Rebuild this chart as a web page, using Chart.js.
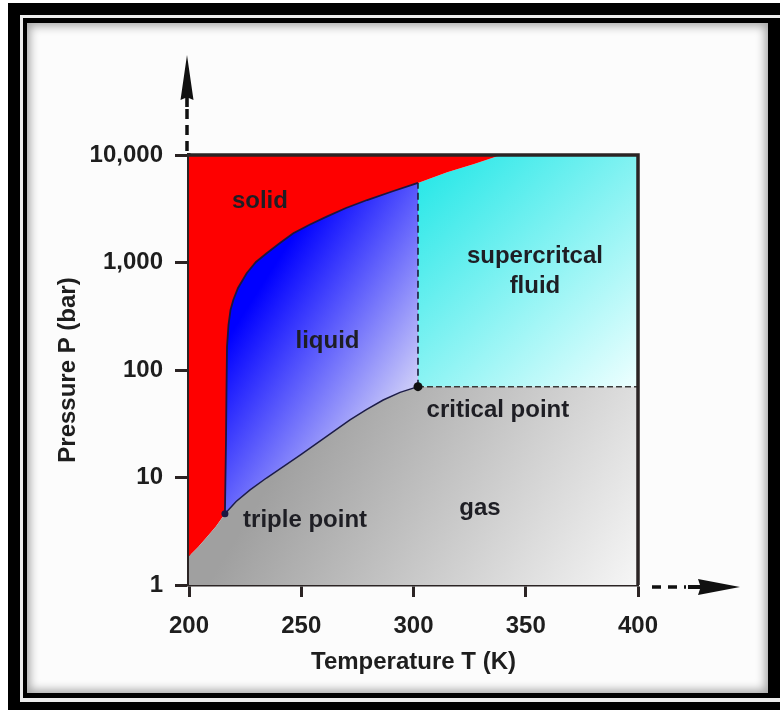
<!DOCTYPE html>
<html>
<head>
<meta charset="utf-8">
<script src="https://cdn.jsdelivr.net/npm/chart.js"></script>
<style>
    body { margin: 0; width: 780px; height: 710px; overflow: hidden; position: relative; background: #fff; }
    .marco { position: absolute; }
    #chartDiagramaFases { position: absolute; left: 0; top: 0; }
</style>
</head>
<body>
<div class="marco" style="left:8px;top:3px;width:800px;height:720px;background:#000"></div>
<div class="marco" style="left:20px;top:15px;width:800px;height:687px;background:#ececec"></div>
<div class="marco" style="left:23px;top:18px;width:800px;height:680px;background:#000"></div>
<div class="marco" style="left:27px;top:23px;width:741px;height:670px;background:#fcfcfc;box-shadow:inset 0 0 10px 3px rgba(0,0,0,0.35)"></div>
<canvas id="chartDiagramaFases" width="780" height="710"></canvas>
<script>
//Datos del diagrama de fases
var xTicks = [200, 250, 300, 350, 400];
var yTicks = [1, 10, 100, 1000, 10000];
var yTickLabels = ['1', '10', '100', '1,000', '10,000'];

//curva solido-gas
var sublimacionT = [200, 204, 208, 212, 216];
var sublimacionP = [1.85, 2.25, 2.8, 3.5, 4.6];

//curva solido-liquido (y solido-fluido por encima de 302 K)
var fusionT = [216.0, 216.48, 216.7, 216.93, 217.59, 218.49, 219.73, 221.83, 225.7, 229.84, 234.61, 240.53, 246.46, 253.9, 261.34, 269.93, 279.34, 290.42, 302.0, 315.0, 327.0, 339.0];
var fusionP = [4.6, 22.3, 65, 164, 262, 362, 448, 579, 794, 1011, 1218, 1518, 1869, 2255, 2669, 3214, 3812, 4575, 5500, 6900, 8250, 10000];

//curva liquido-gas
var vaporT = [216.0, 221.0, 227.2, 234.5, 242.0, 249.5, 256.9, 264.3, 271.7, 279.0, 286.5, 294.0, 302.0];
var vaporP = [4.6, 5.98, 7.66, 9.89, 12.59, 16.14, 20.8, 26.73, 34.28, 42.85, 52.6, 61.94, 70];

var puntoTripleT = 216, puntoTripleP = 4.6;
var puntoCriticoT = 302, puntoCriticoP = 70;
var tMin = 200, tMax = 400, pMin = 1, pMax = 10000;

var etiquetas = ['solid', 'liquid', 'supercritcal', 'fluid', 'gas', 'triple point', 'critical point'];
var etiquetasT = [231.6, 261.7, 354.1, 354.1, 329.6, 251.7, 337.6];
var etiquetasP = [3680, 183, 1132, 596, 5.2, 4.03, 42.5];

var fuente = '"Liberation Sans", Arial, sans-serif';
var colorEje = '#2b2424';

function puntos(ts, ps){
    return ts.map(function(t, i){ return {x: t, y: ps[i]}; });
}

var sublimacion = puntos(sublimacionT, sublimacionP);
var fusion = puntos(fusionT, fusionP);
var vapor = puntos(vaporT, vaporP);
var iCritico = fusionT.indexOf(puntoCriticoT);
var critico = {x: puntoCriticoT, y: puntoCriticoP};

//Poligonos de cada fase
var poligonoSolido = sublimacion.concat(fusion.slice(1), [{x: tMin, y: pMax}]);
var poligonoLiquido = fusion.slice(0, iCritico + 1).concat([critico], vapor.slice(1, -1).reverse());
var poligonoSupercritico = [critico].concat(fusion.slice(iCritico), [{x: tMax, y: pMax}, {x: tMax, y: puntoCriticoP}]);
var poligonoGas = [{x: tMin, y: pMin}].concat(sublimacion, vapor.slice(1), [{x: tMax, y: puntoCriticoP}, {x: tMax, y: pMin}]);

function degradado(ctx, t0, p0, t1, p1, c0, c1){
    var chart = ctx.chart;
    if (!chart.chartArea) { return c0; }
    var sx = chart.scales.x, sy = chart.scales.y;
    var g = chart.ctx.createLinearGradient(sx.getPixelForValue(t0), sy.getPixelForValue(p0), sx.getPixelForValue(t1), sy.getPixelForValue(p1));
    g.addColorStop(0, c0);
    g.addColorStop(1, c1);
    return g;
}

function poligono(datos, color){
    return {
        data: datos,
        fill: 'shape',
        backgroundColor: color,
        borderWidth: 0,
        pointRadius: 0,
        tension: 0,
        order: 3
    };
}

//Flechas, marco y textos
var decoracion = {
    id: 'decoracion',
    afterDraw: function(chart){
        var ctx = chart.ctx;
        var a = chart.chartArea;
        var sx = chart.scales.x, sy = chart.scales.y;
        ctx.save();
        ctx.strokeStyle = colorEje;
        ctx.lineWidth = 3.5;
        ctx.beginPath();
        ctx.moveTo(a.left, a.top);
        ctx.lineTo(a.right, a.top);
        ctx.lineTo(a.right, a.bottom);
        ctx.stroke();

        //flecha vertical
        var fx = a.left - 2;
        ctx.strokeStyle = '#111';
        ctx.lineWidth = 3.5;
        ctx.setLineDash([10, 6]);
        ctx.beginPath();
        ctx.moveTo(fx, a.top - 4);
        ctx.lineTo(fx, a.top - 50);
        ctx.stroke();
        ctx.setLineDash([]);
        ctx.fillStyle = '#111';
        ctx.beginPath();
        ctx.moveTo(fx, a.top - 100);
        ctx.lineTo(fx + 6.5, a.top - 55);
        ctx.lineTo(fx + 1.8, a.top - 57);
        ctx.lineTo(fx + 1.8, a.top - 48);
        ctx.lineTo(fx - 1.8, a.top - 48);
        ctx.lineTo(fx - 1.8, a.top - 57);
        ctx.lineTo(fx - 6.5, a.top - 55);
        ctx.closePath();
        ctx.fill();

        //flecha horizontal
        var fy = a.bottom + 2;
        ctx.setLineDash([9, 7]);
        ctx.beginPath();
        ctx.moveTo(a.right + 14, fy);
        ctx.lineTo(a.right + 48, fy);
        ctx.stroke();
        ctx.setLineDash([]);
        ctx.beginPath();
        ctx.moveTo(a.right + 102, fy);
        ctx.lineTo(a.right + 60, fy - 8);
        ctx.lineTo(a.right + 62, fy - 2);
        ctx.lineTo(a.right + 50, fy - 2);
        ctx.lineTo(a.right + 50, fy + 2);
        ctx.lineTo(a.right + 62, fy + 2);
        ctx.lineTo(a.right + 60, fy + 8);
        ctx.closePath();
        ctx.fill();

        //nombres de las fases
        ctx.fillStyle = '#1e1e24';
        ctx.font = 'bold 24px ' + fuente;
        ctx.textAlign = 'center';
        ctx.textBaseline = 'middle';
        etiquetas.forEach(function(texto, i){
            ctx.fillText(texto, sx.getPixelForValue(etiquetasT[i]), sy.getPixelForValue(etiquetasP[i]));
        });
        ctx.restore();
    }
};

var ctx = document.getElementById('chartDiagramaFases').getContext('2d');
var myChart = new Chart(ctx, {
    type: 'line',
    data: {
        datasets: [
            poligono(poligonoGas, function(c){ return degradado(c, 260, 60, 400, 1, '#a0a0a0', '#f6f6f6'); }),
            poligono(poligonoSolido, '#fe0000'),
            poligono(poligonoLiquido, function(c){ return degradado(c, 232, 600, 302, 70, '#0000ff', '#d0d0f8'); }),
            poligono(poligonoSupercritico, function(c){ return degradado(c, 302, 10000, 400, 70, '#1ee6e6', '#eeffff'); }),
            {
                label: 'fusion',
                data: fusion.slice(0, iCritico + 1),
                borderColor: '#1c1640',
                borderWidth: 1.8,
                pointRadius: 0,
                fill: false,
                order: 2
            },
            {
                label: 'vapor',
                data: vapor,
                borderColor: '#1c1c48',
                borderWidth: 1.5,
                pointRadius: 0,
                fill: false,
                order: 2
            },
            {
                label: 'critica vertical',
                data: [critico, fusion[iCritico]],
                borderColor: '#1c1c3a',
                borderWidth: 1.6,
                borderDash: [7, 4],
                pointRadius: 0,
                fill: false,
                order: 2
            },
            {
                label: 'critica horizontal',
                data: [critico, {x: tMax, y: puntoCriticoP}],
                borderColor: '#3a3a3a',
                borderWidth: 1.5,
                borderDash: [6, 3],
                pointRadius: 0,
                fill: false,
                order: 2
            },
            {
                label: 'puntos',
                data: [{x: puntoTripleT, y: puntoTripleP}, critico],
                showLine: false,
                pointRadius: [3.5, 4.5],
                pointBackgroundColor: ['#1c1640', '#111'],
                pointBorderWidth: 0,
                fill: false,
                order: 1
            }
        ]
    },
    options: {
        responsive: false,
        animation: false,
        devicePixelRatio: 1,
        layout: { padding: { top: 155, right: 142, left: 0, bottom: 0 } },
        plugins: {
            legend: { display: false },
            tooltip: { enabled: false }
        },
        scales: {
            x: {
                type: 'linear',
                min: tMin,
                max: tMax,
                z: 1,
                afterBuildTicks: function(scale){
                    scale.ticks = xTicks.map(function(v){ return {value: v}; });
                },
                afterFit: function(scale){ scale.height = 125; },
                ticks: {
                    color: '#1e1e1e',
                    padding: 15,
                    font: { family: fuente, size: 24, weight: 'bold' }
                },
                grid: { drawOnChartArea: false, tickLength: 12, tickWidth: 3, tickColor: colorEje },
                border: { color: colorEje, width: 3.5 },
                title: {
                    display: true,
                    text: 'Temperature T (K)',
                    color: '#1e1e1e',
                    padding: { top: 0, bottom: 33 },
                    font: { family: fuente, size: 24, weight: 'bold' }
                }
            },
            y: {
                type: 'logarithmic',
                min: pMin,
                max: pMax,
                z: 1,
                afterBuildTicks: function(scale){
                    scale.ticks = yTicks.map(function(v){ return {value: v, major: true}; });
                },
                afterFit: function(scale){ scale.width = 189; },
                ticks: {
                    color: '#1e1e1e',
                    padding: 12,
                    font: { family: fuente, size: 24, weight: 'bold' },
                    callback: function(value){
                        var i = yTicks.indexOf(value);
                        return i >= 0 ? yTickLabels[i] : '';
                    }
                },
                grid: { drawOnChartArea: false, tickLength: 14, tickWidth: 3, tickColor: colorEje },
                border: { color: colorEje, width: 3.5 },
                title: {
                    display: true,
                    text: 'Pressure P (bar)',
                    color: '#1e1e1e',
                    padding: { top: 54, bottom: 0 },
                    font: { family: fuente, size: 24, weight: 'bold' }
                }
            }
        }
    },
    plugins: [decoracion]
});
</script>
</body>
</html>
